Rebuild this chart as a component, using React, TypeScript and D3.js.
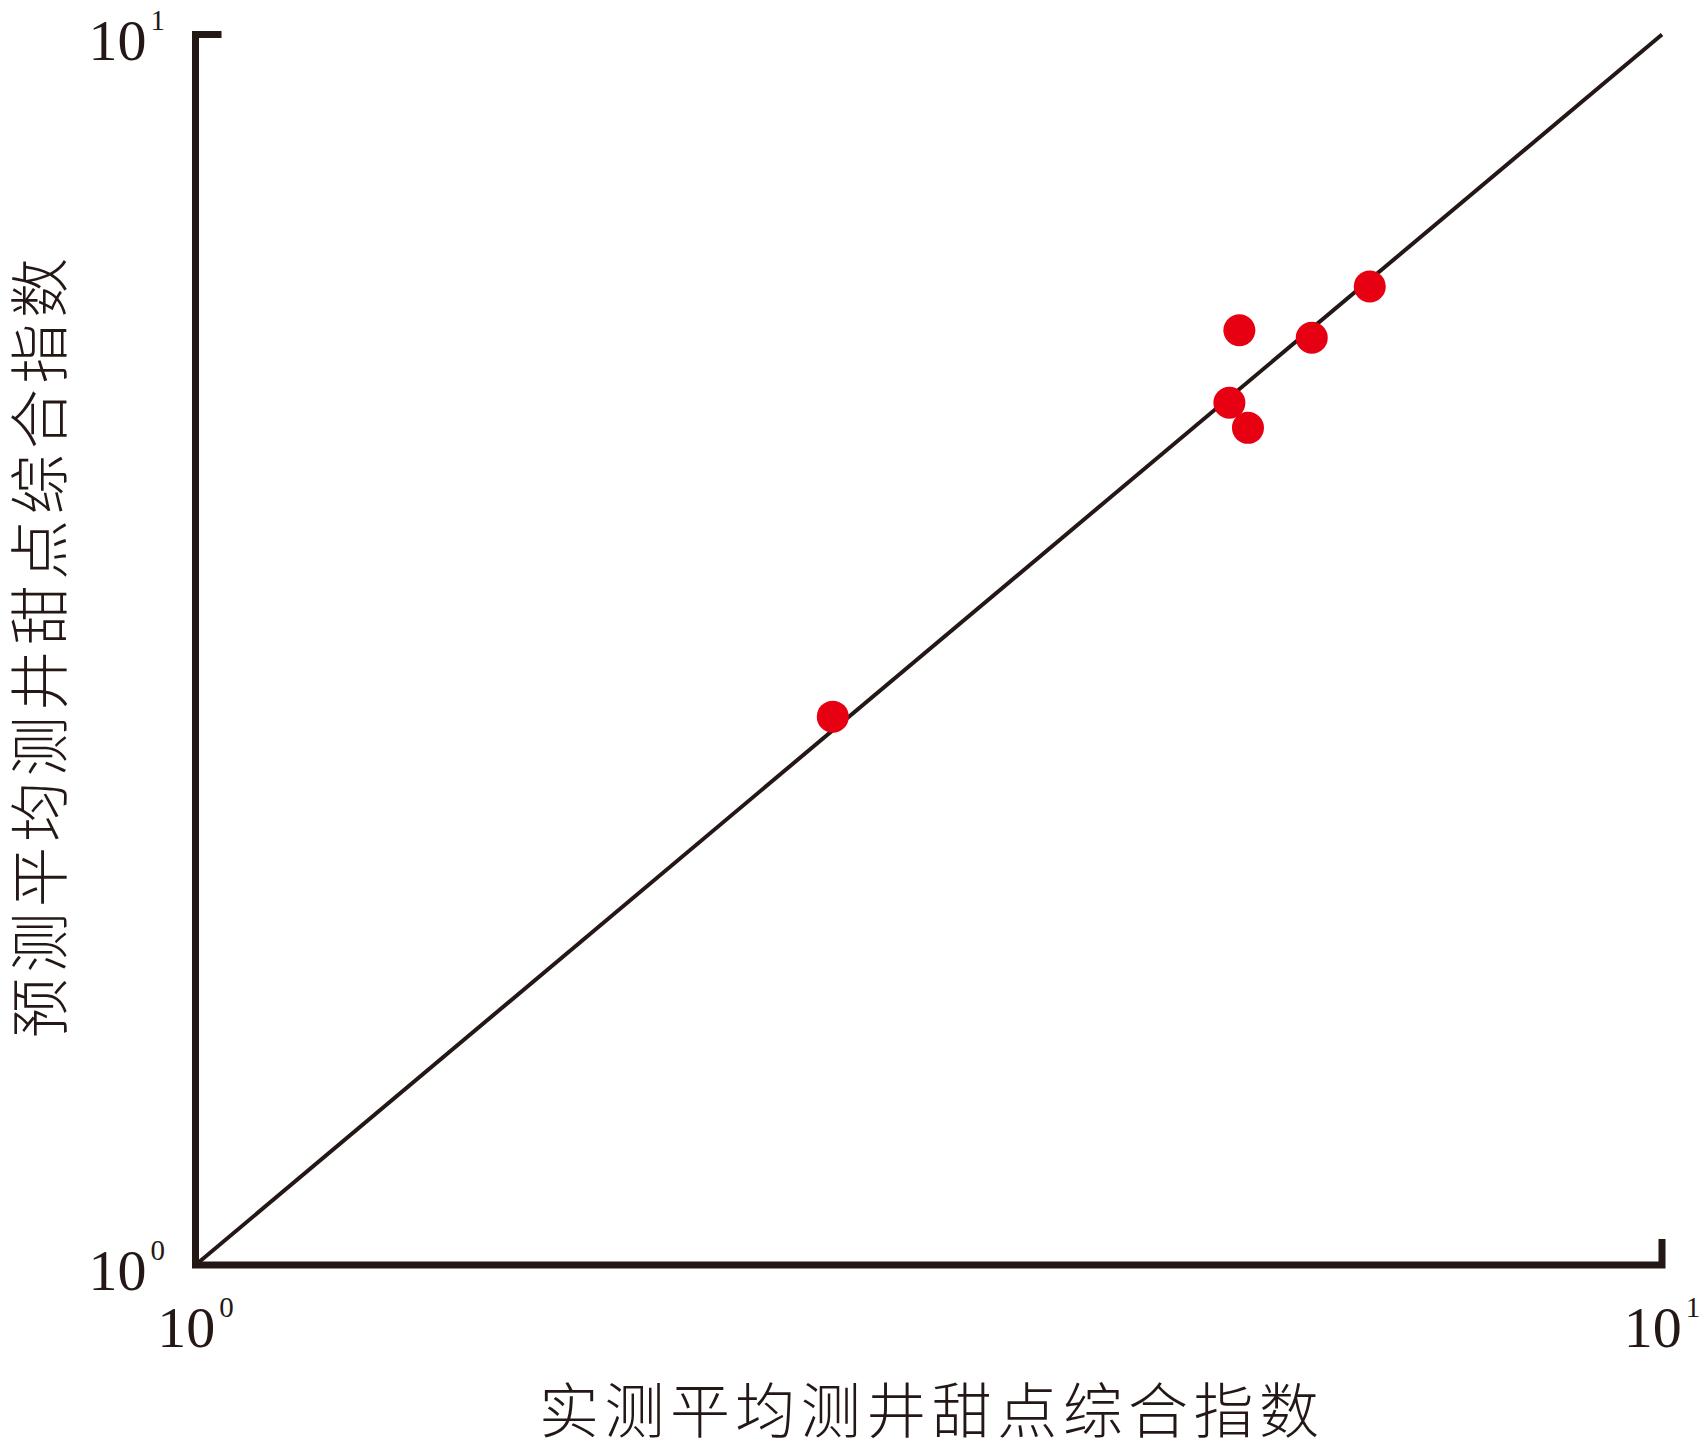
import * as d3 from "d3";
import React, {useEffect, useRef} from "react";

// measured (x) vs predicted (y) sweet-spot composite index
const measured = [2.72, 5.07, 5.15, 5.22, 5.77, 6.32];
const predicted = [2.79, 5.02, 5.75, 4.79, 5.67, 6.24];
const xTicks = [1, 10];
const yTicks = [1, 10];
const xTitle = "实测平均测井甜点综合指数";
const yTitle = "预测平均测井甜点综合指数";

const INK = "#231815";
const RED = "#e60012";

const App: React.FC = () => {
  const ref = useRef<SVGSVGElement | null>(null);

  useEffect(() => {
    const svg = d3.select(ref.current);
    svg.selectAll("*").remove();

    const width = 1701;
    const height = 1441;

    svg.attr("width", width).attr("height", height);

    const xScale = d3.scaleLog().domain([1, 10]).range([195.5, 1662]);
    const yScale = d3.scaleLog().domain([1, 10]).range([1265, 34.5]);

    const x0 = xScale(1), x1 = xScale(10);
    const y0 = yScale(1), y1 = yScale(10);

    // axes frame (L-shape with end ticks)
    svg.append("path")
      .attr("d", `M${x0 + 26},${y1} H${x0} V${y0} H${x1} V${y0 - 26}`)
      .attr("fill", "none")
      .attr("stroke", INK)
      .attr("stroke-width", 7)
      .attr("stroke-linejoin", "miter")
      .attr("stroke-linecap", "butt");

    // 1:1 line
    svg.append("line")
      .attr("x1", xScale(1)).attr("y1", yScale(1))
      .attr("x2", xScale(10)).attr("y2", yScale(10))
      .attr("stroke", INK)
      .attr("stroke-width", 4);

    // points
    svg.selectAll(".pt")
      .data(measured)
      .enter()
      .append("circle")
      .attr("class", "pt")
      .attr("cx", (d) => xScale(d))
      .attr("cy", (_, i) => yScale(predicted[i]))
      .attr("r", 16)
      .attr("fill", RED);

    const exp = (v: number) => String(Math.round(Math.log10(v)));

    // y tick labels
    const yLabels = svg.selectAll(".ylab")
      .data(yTicks)
      .enter()
      .append("text")
      .attr("class", "ylab")
      .attr("x", 165)
      .attr("y", (d) => yScale(d) + 25)
      .attr("text-anchor", "end")
      .attr("fill", INK)
      .style("font-family", "'Liberation Serif', 'DejaVu Serif', serif")
      .style("font-size", "58px");
    yLabels.append("tspan").text("10");
    yLabels.append("tspan")
      .attr("dx", 4)
      .attr("dy", -30)
      .style("font-size", "29px")
      .text((d) => exp(d));

    // x tick labels
    const xLabels = svg.selectAll(".xlab")
      .data(xTicks)
      .enter()
      .append("text")
      .attr("class", "xlab")
      .attr("x", (d) => xScale(d))
      .attr("y", 1347)
      .attr("text-anchor", "middle")
      .attr("fill", INK)
      .style("font-family", "'Liberation Serif', 'DejaVu Serif', serif")
      .style("font-size", "58px");
    xLabels.append("tspan").text("10");
    xLabels.append("tspan")
      .attr("dx", 4)
      .attr("dy", -30)
      .style("font-size", "29px")
      .text((d) => exp(d));

    // axis titles
    svg.append("text")
      .attr("x", 929)
      .attr("y", 1406)
      .attr("text-anchor", "middle")
      .attr("dominant-baseline", "central")
      .attr("fill", INK)
      .attr("textLength", 780)
      .attr("lengthAdjust", "spacing")
      .style("font-family", "'Noto Sans CJK SC', sans-serif")
      .style("font-size", "60px")
      .style("font-weight", 300)
      .text(xTitle);

    svg.append("g")
      .attr("transform", `translate(35, 648) rotate(-90)`)
      .append("text")
      .attr("text-anchor", "middle")
      .attr("dominant-baseline", "central")
      .attr("fill", INK)
      .attr("textLength", 780)
      .attr("lengthAdjust", "spacing")
      .style("font-family", "'Noto Sans CJK SC', sans-serif")
      .style("font-size", "60px")
      .style("font-weight", 300)
      .text(yTitle);

    return () => {
      svg.selectAll("*").remove();
    };
  }, []);

  return (
    <svg
      ref={ref}
      style={{position: "absolute", left: 0, top: 0, display: "block", background: "#fff"}}
    />
  );
};

export default App;
